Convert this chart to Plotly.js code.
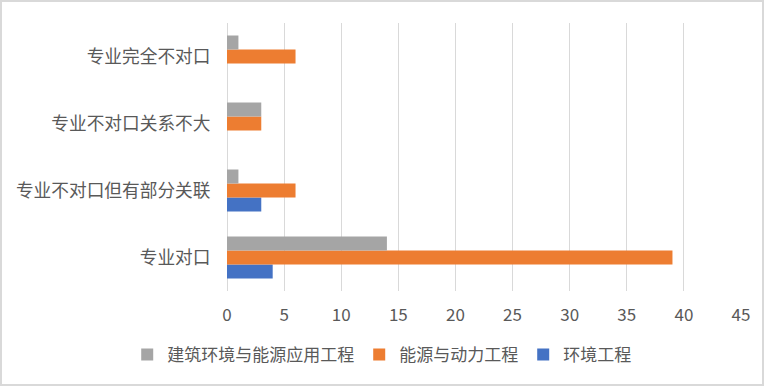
<!DOCTYPE html>
<html>
<head>
<meta charset="utf-8">
<script src="https://cdn.plot.ly/plotly-3.0.1.min.js"></script>
<style>
  html, body { margin: 0; padding: 0; background: #fff; }
  #wrap { position: relative; width: 764px; height: 386px; }
  #chart { width: 764px; height: 386px; }
  #frame { position: absolute; left: 0; top: 0; width: 764px; height: 386px;
           box-sizing: border-box; border: 2px solid #d9d9d9; pointer-events: none; }
</style>
</head>
<body>
<div id="wrap"><div id="chart"></div><div id="frame"></div></div>
<script>
// Categories, bottom to top
const categories = ['专业对口', '专业不对口但有部分关联', '专业不对口关系不大', '专业完全不对口'];
// Series values (in category order)
const seriesNames = ['环境工程', '能源与动力工程', '建筑环境与能源应用工程'];
const huanjing = [4, 3, 0, 0];
const nengyuan = [39, 6, 3, 6];
const jianzhu = [14, 1, 3, 1];
const seriesColors = ['#4472C4', '#ED7D31', '#A5A5A5'];
const xTicks = [0, 5, 10, 15, 20, 25, 30, 35, 40, 45];

const font = '"Noto Sans CJK SC", "Noto Sans", sans-serif';
const textColor = '#595959';

const values = [huanjing, nengyuan, jianzhu];
const traces = values.map((v, i) => ({
  type: 'bar',
  orientation: 'h',
  name: seriesNames[i],
  y: categories,
  x: v,
  marker: { color: seriesColors[i] },
  hoverinfo: 'x+name'
}));

const layout = {
  width: 764,
  height: 386,
  margin: { l: 227, r: 23, t: 23, b: 95, pad: 0, autoexpand: false },
  paper_bgcolor: '#ffffff',
  plot_bgcolor: '#ffffff',
  barmode: 'group',
  bargap: 0.373,
  bargroupgap: 0,
  font: { family: font, color: textColor, size: 17 },
  xaxis: {
    range: [0, 45],
    tickvals: xTicks,
    ticktext: xTicks.map(String),
    showgrid: true,
    gridcolor: '#d9d9d9',
    gridwidth: 1,
    zeroline: true,
    zerolinecolor: '#d9d9d9',
    zerolinewidth: 1,
    showline: false,
    ticks: 'outside',
    ticklen: 9,
    tickcolor: 'rgba(0,0,0,0)',
    tickfont: { family: font, size: 17, color: textColor },
    automargin: false,
    fixedrange: true
  },
  yaxis: {
    type: 'category',
    categoryorder: 'array',
    categoryarray: categories,
    showgrid: false,
    zeroline: false,
    showline: false,
    ticks: 'outside',
    ticklen: 12,
    tickcolor: 'rgba(0,0,0,0)',
    tickfont: { family: font, size: 17.7, color: textColor },
    automargin: false,
    fixedrange: true
  },
  legend: {
    orientation: 'h',
    traceorder: 'reversed',
    x: 0.301,
    xanchor: 'center',
    y: -0.239,
    yanchor: 'middle',
    font: { family: font, size: 17, color: textColor },
    itemclick: false,
    itemdoubleclick: false
  },
  showlegend: true
};

Plotly.newPlot('chart', traces, layout, { displayModeBar: false, staticPlot: true });
</script>
</body>
</html>
